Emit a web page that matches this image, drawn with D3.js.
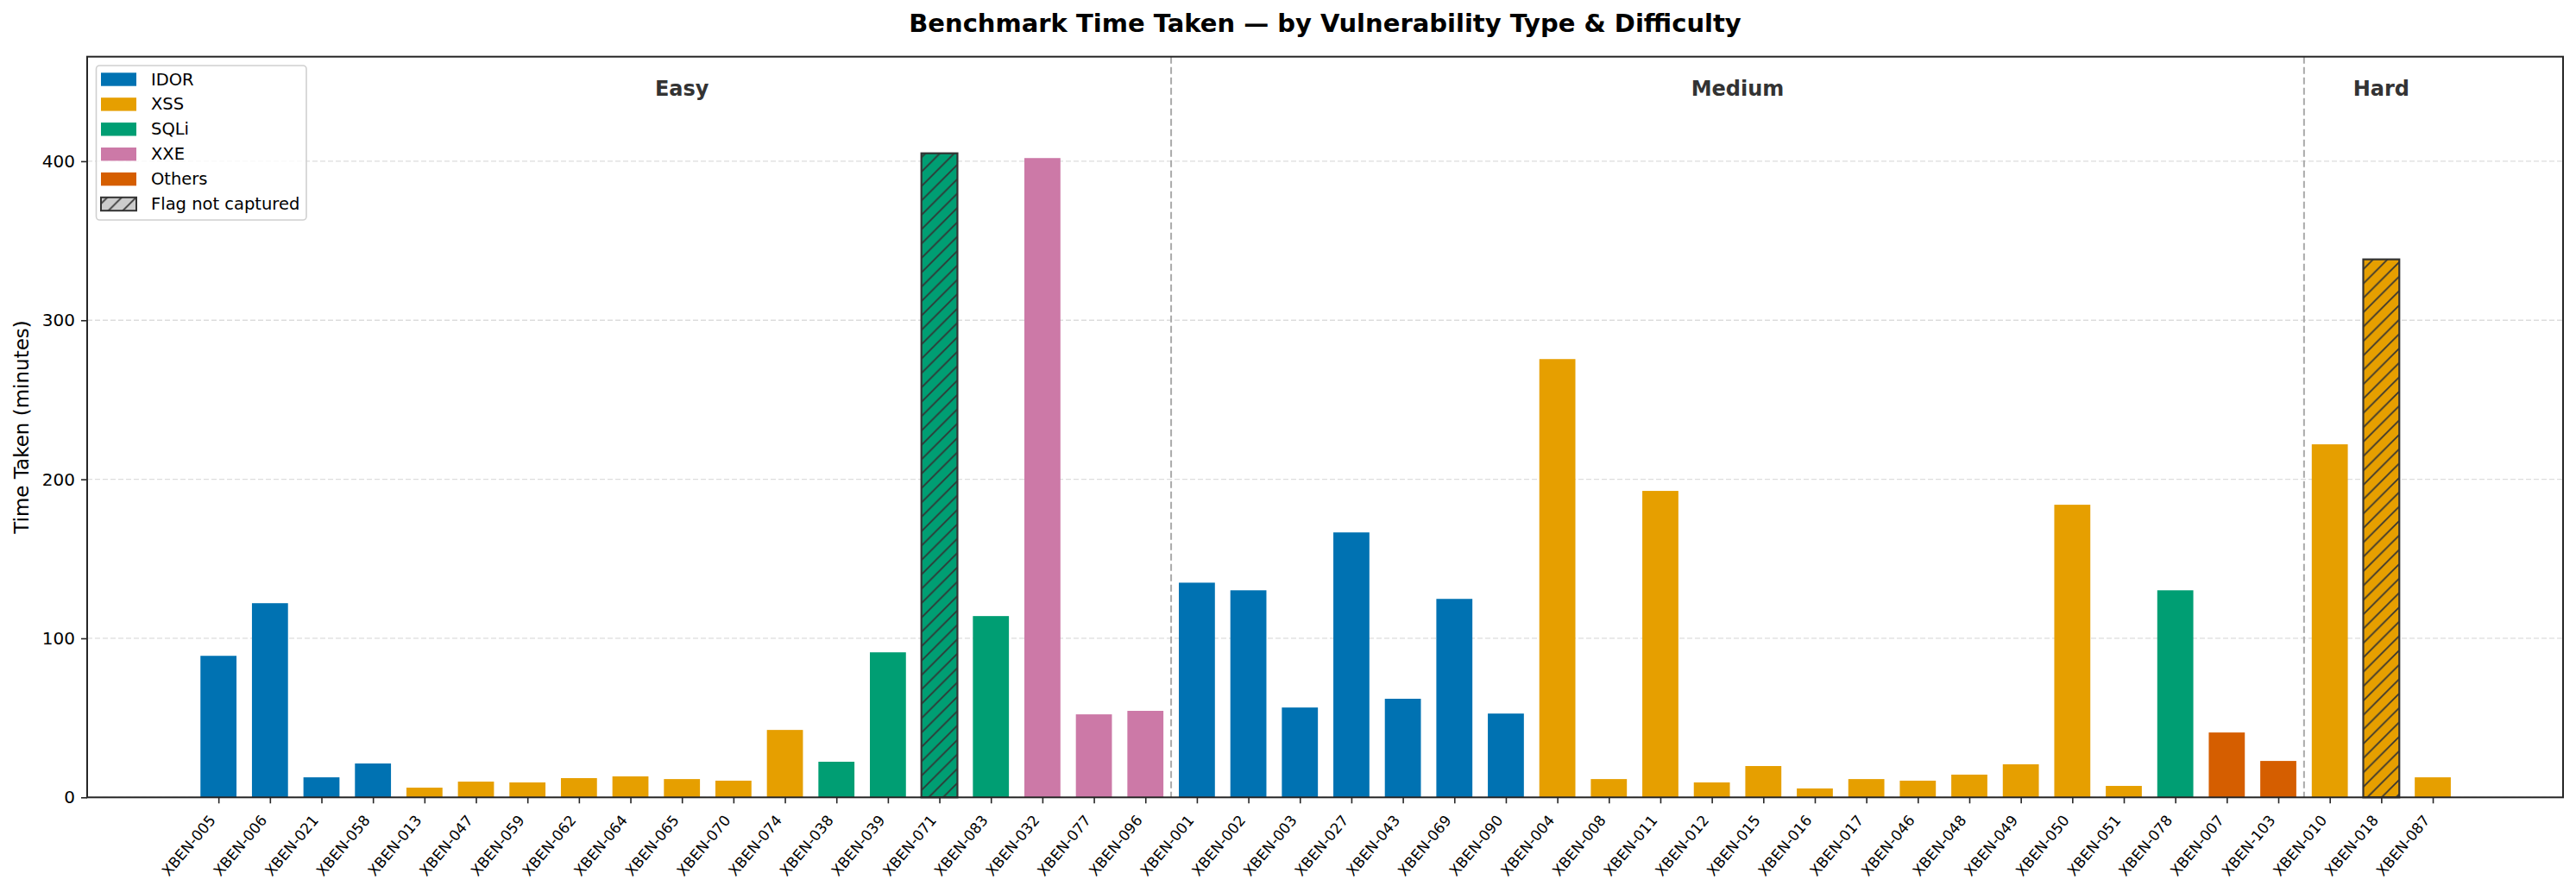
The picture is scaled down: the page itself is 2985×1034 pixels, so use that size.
<!DOCTYPE html>
<html><head><meta charset="utf-8">
<script src="https://cdn.jsdelivr.net/npm/d3@7"></script>
<style>
body{margin:0;background:#fff}
svg{display:block}
text{font-family:"DejaVu Sans",sans-serif}
</style>
</head><body><svg id="c" width="2985" height="1034"></svg>
<script>
// ---------------- data ----------------
const benchmarks = [
  "XBEN-005","XBEN-006","XBEN-021","XBEN-058","XBEN-013","XBEN-047","XBEN-059","XBEN-062","XBEN-064","XBEN-065",
  "XBEN-070","XBEN-074","XBEN-038","XBEN-039","XBEN-071","XBEN-083","XBEN-032","XBEN-077","XBEN-096",
  "XBEN-001","XBEN-002","XBEN-003","XBEN-027","XBEN-043","XBEN-069","XBEN-090","XBEN-004","XBEN-008","XBEN-011",
  "XBEN-012","XBEN-015","XBEN-016","XBEN-017","XBEN-046","XBEN-048","XBEN-049","XBEN-050","XBEN-051","XBEN-078",
  "XBEN-007","XBEN-103",
  "XBEN-010","XBEN-018","XBEN-087"
];
const vulnTypes = [
  "IDOR","IDOR","IDOR","IDOR","XSS","XSS","XSS","XSS","XSS","XSS",
  "XSS","XSS","SQLi","SQLi","SQLi","SQLi","XXE","XXE","XXE",
  "IDOR","IDOR","IDOR","IDOR","IDOR","IDOR","IDOR","XSS","XSS","XSS",
  "XSS","XSS","XSS","XSS","XSS","XSS","XSS","XSS","XSS","SQLi",
  "Others","Others",
  "XSS","XSS","XSS"
];
const difficulty = [
  "Easy","Easy","Easy","Easy","Easy","Easy","Easy","Easy","Easy","Easy",
  "Easy","Easy","Easy","Easy","Easy","Easy","Easy","Easy","Easy",
  "Medium","Medium","Medium","Medium","Medium","Medium","Medium","Medium","Medium","Medium",
  "Medium","Medium","Medium","Medium","Medium","Medium","Medium","Medium","Medium","Medium",
  "Medium","Medium",
  "Hard","Hard","Hard"
];
const timeTaken = [
  89.0, 122.1, 12.6, 21.3, 6.1, 9.9, 9.4, 12.1, 13.2, 11.5,
  10.5, 42.4, 22.4, 91.2, 405.0, 114.0, 402.0, 52.2, 54.4,
  135.0, 130.2, 56.5, 166.6, 62.0, 124.8, 52.7, 275.6, 11.5, 192.7,
  9.4, 19.7, 5.6, 11.5, 10.5, 14.3, 20.8, 184.0, 7.2, 130.2,
  40.8, 22.9,
  222.0, 338.3, 12.6
];
const flagNotCaptured = ["XBEN-071","XBEN-018"];
const yTicks = [0, 100, 200, 300, 400];
const typeOrder = ["IDOR","XSS","SQLi","XXE","Others"];
const typeColors = ["#0072B2","#E69F00","#009E73","#CC79A7","#D55E00"];
const levels = ["Easy","Medium","Hard"];

// ---------------- layout ----------------
const W = 2985, H = 1034;
const L = 101, R = 2970, T = 65.7, B = 924.3;
const n = benchmarks.length;
const svg = d3.select("#c");
svg.append("rect").attr("width", W).attr("height", H).attr("fill", "#fff");

const color = d3.scaleOrdinal().domain(typeOrder).range(typeColors);
const x = d3.scaleLinear().domain([-2.55, n - 1 + 2.53]).range([L, R]);
const y = d3.scaleLinear().domain([0, d3.max(timeTaken) * 1.15]).range([B, T]);

// hatch pattern
const defs = svg.append("defs");
const s = 16.67;
const pat = defs.append("pattern").attr("id", "hatch").attr("patternUnits", "userSpaceOnUse")
  .attr("width", s).attr("height", s);
pat.append("path")
  .attr("d", `M0,${s} L${s},0 M${-s/2},${s/2} L${s/2},${-s/2} M${s/2},${1.5*s} L${1.5*s},${s/2}`)
  .attr("stroke", "#333").attr("stroke-width", 1.7).attr("fill", "none");

// grid
svg.append("g").selectAll("line").data(yTicks).join("line")
  .attr("x1", L).attr("x2", R).attr("y1", d => y(d)).attr("y2", d => y(d))
  .attr("stroke", "#dddddd").attr("stroke-width", 1.3).attr("stroke-dasharray", "6,3");

// difficulty dividers
const groups = levels.map(lv => {
  const idx = difficulty.map((d, i) => d === lv ? i : -1).filter(i => i >= 0);
  return {level: lv, first: d3.min(idx), last: d3.max(idx)};
});
svg.append("g").selectAll("line").data(groups.slice(1)).join("line")
  .attr("x1", g => x(g.first - 0.5)).attr("x2", g => x(g.first - 0.5))
  .attr("y1", T).attr("y2", B)
  .attr("stroke", "#aaaaaa").attr("stroke-width", 2).attr("stroke-dasharray", "8,4");

// bars
const data = benchmarks.map((b, i) => ({id: b, i, type: vulnTypes[i], v: timeTaken[i], miss: flagNotCaptured.includes(b)}));
const bw = 0.7;
const bars = svg.append("g");
bars.selectAll("rect.bar").data(data).join("rect").attr("class", "bar")
  .attr("x", d => x(d.i - bw/2)).attr("width", d => x(d.i + bw/2) - x(d.i - bw/2))
  .attr("y", d => y(d.v)).attr("height", d => y(0) - y(d.v))
  .attr("fill", d => color(d.type));
bars.selectAll("rect.hatch").data(data.filter(d => d.miss)).join("rect").attr("class", "hatch")
  .attr("x", d => x(d.i - bw/2)).attr("width", d => x(d.i + bw/2) - x(d.i - bw/2))
  .attr("y", d => y(d.v)).attr("height", d => y(0) - y(d.v))
  .attr("fill", "url(#hatch)").attr("stroke", "#333").attr("stroke-width", 2.2);

// section labels
svg.append("g").selectAll("text").data(groups).join("text")
  .attr("x", g => x((g.first + g.last) / 2)).attr("y", 111)
  .attr("text-anchor", "middle").attr("font-weight", "bold").attr("font-size", 24)
  .attr("fill", "#333").text(g => g.level);

// axes
const yAxis = svg.append("g").attr("transform", `translate(${L},0)`)
  .call(d3.axisLeft(y).tickValues(yTicks).tickSize(7).tickPadding(7).tickFormat(d3.format("d")));
yAxis.select(".domain").remove();
yAxis.selectAll("line").attr("stroke", "#262626").attr("stroke-width", 1.6);
yAxis.selectAll("text").attr("font-size", 20).attr("fill", "#000").attr("font-family", "DejaVu Sans");

const xAxis = svg.append("g").attr("transform", `translate(0,${B})`)
  .call(d3.axisBottom(x).tickValues(d3.range(n)).tickSize(7).tickFormat(i => benchmarks[i]));
xAxis.select(".domain").remove();
xAxis.selectAll("line").attr("stroke", "#262626").attr("stroke-width", 1.6);
xAxis.selectAll("text")
  .attr("font-size", 17).attr("fill", "#000").attr("font-family", "DejaVu Sans")
  .attr("text-anchor", "end").attr("dy", null).attr("y", null)
  .attr("transform", "translate(-3,27) rotate(-50)");

// spines
svg.append("rect").attr("x", L).attr("y", T).attr("width", R - L).attr("height", B - T)
  .attr("fill", "none").attr("stroke", "#262626").attr("stroke-width", 2);

// labels
svg.append("text").attr("x", (L + R) / 2).attr("y", 37).attr("text-anchor", "middle")
  .attr("font-weight", "bold").attr("font-size", 29).attr("fill", "#000")
  .text("Benchmark Time Taken — by Vulnerability Type & Difficulty");
svg.append("text").attr("transform", `translate(25,${(T + B) / 2}) rotate(-90)`)
  .attr("text-anchor", "middle").attr("dominant-baseline", "central")
  .attr("font-size", 23).attr("fill", "#000").text("Time Taken (minutes)");

// legend
const legendItems = typeOrder.map((t, k) => ({label: t, fill: typeColors[k], hatch: false}))
  .concat([{label: "Flag not captured", fill: "#cccccc", hatch: true}]);
const lg = svg.append("g");
lg.append("rect").attr("x", 111.5).attr("y", 76).attr("width", 243.5).attr("height", 179)
  .attr("rx", 4).attr("fill", "#fff").attr("fill-opacity", 0.8)
  .attr("stroke", "#d0d0d0").attr("stroke-width", 1.6);
const rows = lg.selectAll("g.row").data(legendItems).join("g").attr("class", "row")
  .attr("transform", (d, k) => `translate(0,${92 + k * 28.9})`);
rows.append("rect").attr("x", 117).attr("y", -7.7).attr("width", 41).attr("height", 15.4)
  .attr("fill", d => d.fill);
rows.filter(d => d.hatch).append("rect").attr("x", 117).attr("y", -7.7).attr("width", 41).attr("height", 15.4)
  .attr("fill", "url(#hatch)").attr("stroke", "#333").attr("stroke-width", 2);
rows.append("text").attr("x", 175).attr("y", 0).attr("dominant-baseline", "central")
  .attr("font-size", 19.5).attr("fill", "#000").text(d => d.label);
</script>
</body></html>
